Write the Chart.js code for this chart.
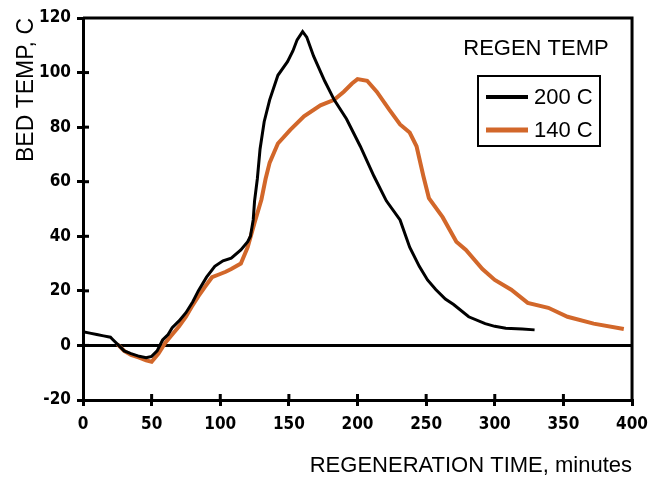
<!DOCTYPE html>
<html>
<head>
<meta charset="utf-8">
<script src="https://cdn.jsdelivr.net/npm/chart.js@4/dist/chart.umd.min.js"></script>
<style>
    html, body { margin: 0; padding: 0; background: #fff; }
    #wrap { width: 656px; height: 477px; }
</style>
</head>
<body>
<div id="wrap"><canvas id="chart"></canvas></div>
<script>
// 200 C regeneration run
var time200 = [0, 5, 10, 15, 20, 22, 26, 30, 35, 41, 46, 50, 54, 58, 62, 65, 70, 75, 80, 84, 90, 96, 102, 108, 115, 120, 122, 124, 125, 127, 129, 132, 136, 142, 149, 153, 156, 160, 163, 168, 176, 183, 192, 202, 212, 221, 231, 238, 245, 251, 257, 264, 270, 281, 293, 300, 308, 320, 329];
var temp200 = [5, 4.5, 4, 3.5, 3, 2, 0, -2, -3, -4, -4.5, -4, -2, 2, 4, 6.5, 9, 12, 16, 20, 25, 29, 31, 32, 35, 38, 40, 46, 53, 61, 72, 82, 90, 99, 104, 108, 112, 115, 113, 106, 97, 90, 83, 73, 62, 53, 46, 36, 29, 24, 20.5, 17, 15, 10.5, 8, 7, 6.3, 6, 5.7];

// 140 C regeneration run
var time140 = [25, 30, 35, 41, 46, 50, 55, 60, 65, 70, 75, 79, 84, 89, 94, 99, 104, 108, 115, 120, 125, 130, 133, 136, 142, 151, 161, 173, 183, 190, 196, 200, 207, 214, 223, 231, 238, 243, 248, 252, 262, 272, 279, 291, 300, 312, 324, 339, 353, 372, 394];
var temp140 = [0.5, -2, -3.5, -4.5, -5.5, -6, -3, 1, 4, 7, 10.5, 14, 18, 21.6, 25, 26, 27, 28, 30, 36, 45, 53.5, 61, 67, 74, 79, 84, 88, 90, 93, 96, 97.6, 97, 93, 86.5, 81, 78, 73, 62, 54, 47, 38, 35, 28, 24, 20.4, 15.6, 13.8, 10.5, 8, 6];

var seriesLabels = ['200 C', '140 C'];
var seriesColors = ['#000000', '#d2672a'];
var xTicksMin = 0, xTicksMax = 400, xStep = 50;
var yTicksMin = -20, yTicksMax = 120, yStep = 20;

var tickFont = { family: "'Liberation Sans Narrow', 'DejaVu Sans Condensed', 'Liberation Sans', sans-serif", size: 17, weight: 'bold' };
var titleFont = { family: "'Liberation Sans', Arial, sans-serif", size: 22, lineHeight: 1 };

function toPoints(xs, ys) {
    var pts = [];
    for (var i = 0; i < xs.length; i++) {
        pts.push({ x: xs[i], y: ys[i] });
    }
    return pts;
}

// top/right frame, zero line and inner tick halves
var framePlugin = {
    id: 'framePlugin',
    beforeDatasetsDraw: function(chart) {
        var ctx = chart.ctx;
        var a = chart.chartArea;
        var xs = chart.scales.x, ys = chart.scales.y;
        ctx.save();
        ctx.strokeStyle = '#000';
        ctx.lineWidth = 3;
        ctx.beginPath();
        ctx.moveTo(a.left, a.top);
        ctx.lineTo(a.right, a.top);
        ctx.lineTo(a.right, a.bottom);
        ctx.stroke();
        var y0 = ys.getPixelForValue(0);
        ctx.beginPath();
        ctx.moveTo(a.left, y0);
        ctx.lineTo(a.right, y0);
        ctx.stroke();
        // inner tick halves
        for (var v = xTicksMin + xStep; v < xTicksMax; v += xStep) {
            var px = xs.getPixelForValue(v);
            ctx.beginPath();
            ctx.moveTo(px, a.bottom);
            ctx.lineTo(px, a.bottom - 6);
            ctx.stroke();
        }
        for (var w = yTicksMin + yStep; w < yTicksMax; w += yStep) {
            var py = ys.getPixelForValue(w);
            ctx.beginPath();
            ctx.moveTo(a.left, py);
            ctx.lineTo(a.left + 6, py);
            ctx.stroke();
        }
        ctx.restore();
    },
    afterDatasetsDraw: function(chart) {
        // legend with title and boxed entries
        var ctx = chart.ctx;
        var sets = chart.data.datasets;
        ctx.save();
        ctx.fillStyle = '#000';
        ctx.font = "22px 'Liberation Sans', Arial, sans-serif";
        ctx.textBaseline = 'middle';
        ctx.textAlign = 'center';
        ctx.fillText('REGEN TEMP', 536, 49);
        ctx.strokeStyle = '#000';
        ctx.lineWidth = 2;
        ctx.strokeRect(478, 76, 122, 70);
        ctx.textAlign = 'left';
        for (var i = 0; i < sets.length; i++) {
            var yy = 97 + i * 33;
            ctx.strokeStyle = sets[i].borderColor;
            ctx.lineWidth = sets[i].borderWidth + 1;
            ctx.beginPath();
            ctx.moveTo(486, yy);
            ctx.lineTo(528, yy);
            ctx.stroke();
            ctx.fillText(sets[i].label, 534, yy + 1);
        }
        ctx.restore();
    }
};

var ctx = document.getElementById('chart').getContext('2d');
var chart = new Chart(ctx, {
    type: 'line',
    data: {
        datasets: [
            {
                label: seriesLabels[0],
                data: toPoints(time200, temp200),
                borderColor: seriesColors[0],
                borderWidth: 3,
                pointRadius: 0,
                tension: 0,
                fill: false
            },
            {
                label: seriesLabels[1],
                data: toPoints(time140, temp140),
                borderColor: seriesColors[1],
                borderWidth: 4,
                pointRadius: 0,
                tension: 0,
                fill: false
            }
        ]
    },
    options: {
        responsive: true,
        maintainAspectRatio: false,
        animation: false,
        layout: { padding: { top: 18, right: 17, left: 0, bottom: 0 } },
        plugins: {
            legend: { display: false },
            tooltip: { enabled: false }
        },
        scales: {
            x: {
                type: 'linear',
                min: xTicksMin,
                max: xTicksMax,
                ticks: { stepSize: xStep, color: '#000', font: tickFont, padding: 8, maxRotation: 0 },
                grid: { drawOnChartArea: false, drawTicks: true, tickLength: 6, lineWidth: 3, color: '#000' },
                border: { display: true, width: 3, color: '#000' },
                title: { display: true, text: 'REGENERATION TIME, minutes', align: 'end', color: '#000', font: titleFont, padding: { top: 0, bottom: 0 } },
                afterFit: function(scale) { scale.height = 77; }
            },
            y: {
                min: yTicksMin,
                max: yTicksMax,
                ticks: { stepSize: yStep, color: '#000', font: tickFont, padding: 6 },
                grid: { drawOnChartArea: false, drawTicks: true, tickLength: 6, lineWidth: 3, color: '#000' },
                border: { display: true, width: 3, color: '#000' },
                title: { display: true, text: 'BED TEMP, C', align: 'end', color: '#000', font: { family: "'Liberation Sans', Arial, sans-serif", size: 23, lineHeight: 1 }, padding: { top: 15, bottom: 0 } },
                afterFit: function(scale) { scale.width = 83; }
            }
        }
    },
    plugins: [framePlugin]
});
</script>
</body>
</html>
